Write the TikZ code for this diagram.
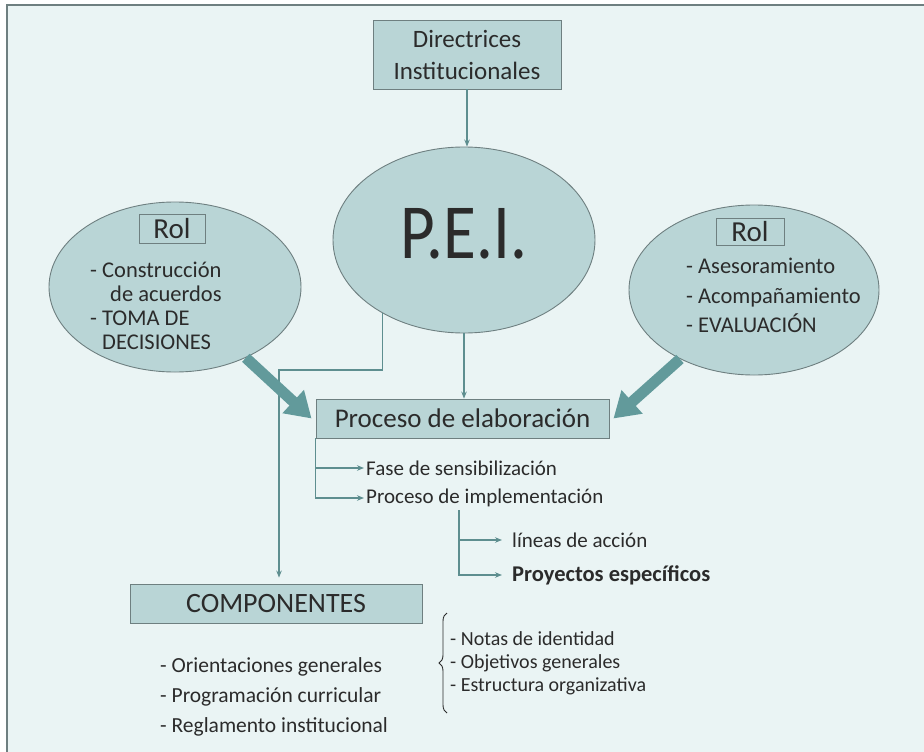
\documentclass[tikz,border=0pt]{standalone}
\usepackage{fontspec}
\setmainfont{Carlito}
\usepackage{tikz}
\usetikzlibrary{arrows.meta,positioning,shapes.geometric,decorations.pathreplacing}
\definecolor{paper}{HTML}{EAF4F4}
\definecolor{cellfill}{HTML}{B9D5D6}
\definecolor{linkcol}{HTML}{5E8E8F}
\definecolor{fatcol}{HTML}{629A9B}
\definecolor{ink}{HTML}{2B2B2B}
\definecolor{rim}{HTML}{6E7F80}

\begin{document}
\begin{tikzpicture}[
    x=1bp, y=-1bp,
    box/.style = {rectangle, draw=rim, fill=cellfill, line width=0.9bp, inner sep=0pt, text=ink},
    oval/.style = {ellipse, draw=rim, fill=cellfill, line width=0.9bp, inner sep=0pt},
    txt/.style = {inner sep=0pt, anchor=west, text=ink, align=left},
    link/.style = {draw=linkcol, line width=1.1bp, ->},
    fatarrow/.style = {draw=fatcol, line width=11bp, -{Triangle[length=25bp,width=30bp]}},
    >={Stealth[length=7bp,width=5.5bp]}
]
\useasboundingbox (0,0) rectangle (924,752);
% Frame
\fill[paper] (7,5) rectangle (924,752);
\draw[rim, line width=1.5bp] (7,752) -- (7,5) -- (924,5);

% Level 1
\node[box, minimum width=188bp, minimum height=69bp, align=center,
      font=\fontsize{25bp}{32bp}\selectfont] (dir) at (467,54.5) {Directrices\\Institucionales};

% Level 2
\node[oval, minimum width=262bp, minimum height=186bp] (pei) at (464,240) {};
\node[text=ink, inner sep=0pt, xscale=0.86, transform shape,
      font=\fontsize{78bp}{78bp}\selectfont] (peitag) at (464,234) {P.E.I.};

\node[oval, minimum width=252bp, minimum height=170bp] (rolA) at (175,287) {};
\node[box, minimum width=66bp, minimum height=29bp, font=\fontsize{29bp}{30bp}\selectfont] (rolAtag) at (172,228.5) {Rol};
\node[txt, font=\fontsize{22.5bp}{24bp}\selectfont] (rolAtext) at (90,306)
    {- Construcción\\\hspace*{20bp}de acuerdos\\- TOMA DE\\\hspace*{12bp}DECISIONES};

\node[oval, minimum width=250bp, minimum height=170bp] (rolB) at (754,290) {};
\node[box, minimum width=68bp, minimum height=27bp, font=\fontsize{29bp}{30bp}\selectfont] (rolBtag) at (750,231.5) {Rol};
\node[txt, font=\fontsize{22.5bp}{29.5bp}\selectfont] (rolBtext) at (686,295.5)
    {- Asesoramiento\\- Acompañamiento\\- EVALUACIÓN};

% Level 3
\node[box, minimum width=293bp, minimum height=39bp, font=\fontsize{27bp}{30bp}\selectfont] (proc) at (462.5,418.5) {Proceso de elaboración};
\node[txt, font=\fontsize{21bp}{23bp}\selectfont] (fase) at (366,468) {Fase de sensibilización};
\node[txt, font=\fontsize{21bp}{23bp}\selectfont] (impl) at (366,498) {Proceso de implementación};
\node[txt, font=\fontsize{21bp}{23bp}\selectfont] (lineas) at (512,540) {líneas de acción};
\node[txt, font=\fontsize{22.5bp}{23bp}\bfseries] (proy) at (512,575) {Proyectos específicos};

% Level 4
\node[box, minimum width=292bp, minimum height=39bp, font=\fontsize{28bp}{30bp}\selectfont] (comp) at (276,603.5) {COMPONENTES};
\node[txt, font=\fontsize{21.5bp}{30bp}\selectfont] (partes) at (160,697)
    {- Orientaciones generales\\- Programación curricular\\- Reglamento institucional};
\node[txt, font=\fontsize{20bp}{23bp}\selectfont] (notas) at (450,663)
    {- Notas de identidad\\- Objetivos generales\\- Estructura organizativa};
\draw[ink, line width=0.9bp, decorate, decoration={brace, amplitude=8bp}] (447,713) -- (447,613);

% Edges
\coordinate (bend) at (279,370);
\coordinate (implfoot) at (459,510);
\draw[link] (dir.south) -- (dir.south |- pei.north);
\draw[link] (pei.south) -- (pei.south |- proc.north);
\draw[link, shorten >=6bp] (pei.222) |- (bend) -- (bend |- comp.north);
\draw[link, shorten >=2bp] (proc.south west) |- (fase.west);
\draw[link, shorten >=2bp] (proc.south west) |- (impl.west);
\draw[link, shorten >=10bp] (implfoot) |- (lineas.west);
\draw[link, shorten >=10bp] (implfoot) |- (proy.west);

\draw[fatarrow] (rolA.-45) -- ([xshift=-4bp]proc.west);
\draw[fatarrow] (rolB.-137) -- ([xshift=4bp]proc.east);

\end{tikzpicture}
\end{document}
